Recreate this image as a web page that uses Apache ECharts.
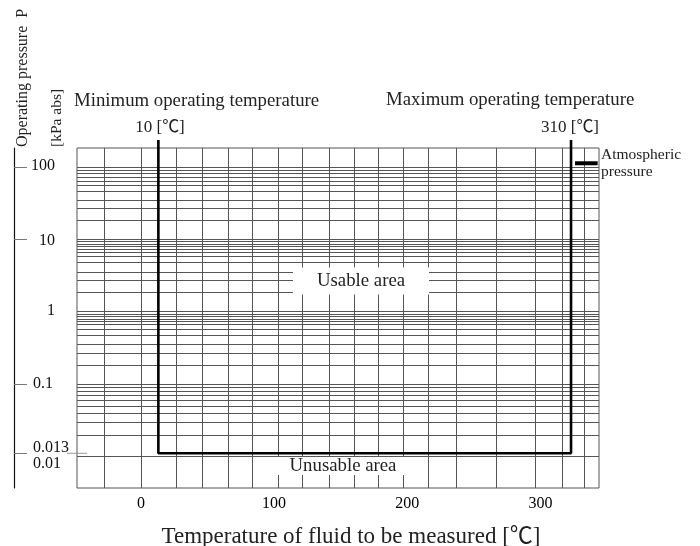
<!DOCTYPE html>
<html>
<head>
<meta charset="utf-8">
<script src="https://cdn.jsdelivr.net/npm/echarts@6/dist/echarts.min.js"></script>
<style>
html,body{margin:0;padding:0;background:#fff;}
#chart{width:700px;height:546px;}
</style>
</head>
<body>
<div id="chart"></div>
<script>
// ---- data ----
const xTickLabels = [0, 100, 200, 300];                 // °C
const yTickLabels = [100, 10, 1, 0.1, 0.013, 0.01];     // kPa abs
const yTickMarks = [100, 10, 0.1, 0.0111];
const verticalGridTemps = [-27.7, 0, 26.4, 45.9, 65.4, 83.4, 103, 121, 141.3, 160.1, 178.1,
  196.8, 215.6, 236.6, 266.7, 295.9, 316.2, 332.7];
const horizontalGridPressures = [
  100, 89.6, 80.4, 70.8, 63.7, 56.1, 45.4, 34.8, 26.8, 18.5,
  10, 9.26, 8.61, 7.90, 7.27, 6.67, 5.74, 4.75, 3.50, 2.68, 1.85,
  1, 0.926, 0.861, 0.790, 0.727, 0.667, 0.574, 0.475, 0.350, 0.268, 0.185,
  0.1, 0.0951, 0.0876, 0.0812, 0.0747, 0.0686, 0.0617, 0.0544, 0.0464, 0.0355, 0.0273, 0.0182,
  0.01018, 0.00946, 0.00877, 0.00807, 0.00741, 0.00667, 0.00574, 0.00475];
const limitTemps = [13.1, 323];          // min / max operating temperature lines
const limitTopPressure = 235;            // top end of the limit lines
const limitLowPressure = 0.0111;         // lower boundary line
const atmTemps = [326, 343];
const atmPressure = 112;
const leaderTemps = [-55.6, -40.5];
// -------------------------------------

const SERIF = "'Liberation Serif', 'Noto Sans CJK JP', serif";
const chart = echarts.init(document.getElementById('chart'), null, {renderer: 'canvas'});

const boundary = [
  [limitTemps[0], limitTopPressure],
  [limitTemps[0], limitLowPressure],
  [limitTemps[1], limitLowPressure],
  [limitTemps[1], limitTopPressure]
];

function yLabelFmt(v) {
  const s = String(+v.toPrecision(3));
  const near = (a) => Math.abs(v - a) < a * 1e-6;
  if (near(0.01)) return '{d|' + s + '}';
  if (near(0.013)) return '{s|' + s + '}';
  if (near(0.1)) return '{p|' + s + '}';
  if (near(100)) return '{h|' + s + '}';
  if (near(10)) return '{k|' + s + '}';
  return '{b|' + s + '}';
}

function txt(id, x, y, text, font, align, vAlign, extra) {
  return {
    type: 'text', id: id, z: 100, x: x, y: y, silent: true,
    style: Object.assign({text: text, font: font + ' ' + SERIF, fill: '#222',
      textAlign: align, textVerticalAlign: vAlign}, extra || {})
  };
}

const lab = {fontFamily: SERIF, fontSize: 16, color: '#111'};
const option = {
  animation: false,
  backgroundColor: '#fff',
  grid: {
    left: 77, right: 101, top: 148, bottom: 58,
    outerBoundsMode: 'none', containLabel: false,
    show: true, borderColor: '#555', borderWidth: 1
  },
  xAxis: {
    type: 'value', min: -48, max: 344,
    axisLine: {show: false}, axisTick: {show: false}, splitLine: {show: false},
    axisLabel: {
      customValues: xTickLabels, margin: 8,
      fontFamily: SERIF, fontSize: 16, color: '#000'
    },
    name: 'Temperature of fluid to be measured [℃]',
    nameLocation: 'middle', nameGap: 37,
    nameTextStyle: {fontFamily: SERIF, fontSize: 23, color: '#222', padding: [0, 0, 0, 26]}
  },
  yAxis: {
    type: 'log', logBase: 10, min: 0.003680, max: 182.0,
    position: 'left', offset: 63,
    axisLine: {show: true, onZero: false, lineStyle: {color: '#111', width: 1.2}},
    axisTick: {show: true, inside: true, length: 13, customValues: yTickMarks,
      lineStyle: {color: '#777', width: 1}},
    splitLine: {show: false},
    axisLabel: {
      customValues: yTickLabels, inside: true, margin: 19, align: 'left',
      formatter: yLabelFmt,
      rich: {
        b: Object.assign({}, lab, {width: 22, align: 'right', padding: [0, 0, 1, 0]}),
        h: Object.assign({}, lab, {width: 22, align: 'right', padding: [0, 0, 3, 0]}),
        k: Object.assign({}, lab, {width: 22, align: 'right', padding: [3, 0, 0, 0]}),
        p: Object.assign({}, lab, {padding: [0, 0, 0, 0]}),
        s: Object.assign({}, lab, {padding: [0, 0, 2, 0]}),
        d: Object.assign({}, lab, {padding: [15, 0, 0, 0]})
      }
    }
  },
  series: [
    {
      type: 'line', name: 'grid', data: [], silent: true, z: 1,
      markLine: {
        silent: true, symbol: ['none', 'none'], label: {show: false},
        lineStyle: {type: 'solid', color: '#555', width: 1},
        emphasis: {disabled: true},
        data: horizontalGridPressures.map(p => ({yAxis: p}))
          .concat(verticalGridTemps.map(t => ({xAxis: t})))
      }
    },
    {
      type: 'line', name: 'limits', data: boundary, clip: false, z: 5,
      symbol: 'none', silent: true,
      lineStyle: {color: '#000', width: 2.6}
    },
    {
      type: 'line', name: 'atmospheric', clip: false, z: 5,
      data: atmTemps.map(t => [t, atmPressure]),
      symbol: 'none', silent: true,
      lineStyle: {color: '#000', width: 4}
    }
  ],
  graphic: {
    elements: [
      txt('tmin', 74, 101, 'Minimum operating temperature', '18.8px', 'left', 'middle'),
      txt('tmax', 386, 100, 'Maximum operating temperature', '18.8px', 'left', 'middle'),
      txt('l10', 160, 128, '10 [℃]', '17px', 'center', 'middle'),
      txt('l310', 570, 128, '310 [℃]', '17px', 'center', 'middle'),
      txt('atm', 601, 146, 'Atmospheric\npressure', '15.5px', 'left', 'top', {lineHeight: 17}),
      txt('usable', 361, 281, 'Usable area', '18.8px', 'center', 'middle',
        {backgroundColor: '#fff', padding: [4, 24, 4, 24]}),
      txt('unusable', 343, 466, 'Unusable area', '18.8px', 'center', 'middle',
        {backgroundColor: '#fff', padding: [0, 22, 0, 22], lineHeight: 18}),
      Object.assign(txt('yname1', 23, 147, 'Operating pressure  P', '16px', 'left', 'middle'),
        {rotation: Math.PI / 2}),
      Object.assign(txt('yname2', 57, 147, '[kPa abs]', '15.5px', 'left', 'middle'),
        {rotation: Math.PI / 2})
    ]
  }
};
chart.setOption(option);

// leader line for the 0.013 tick, placed through the chart's own scales
const p0 = chart.convertToPixel({gridIndex: 0}, [leaderTemps[0], limitLowPressure]);
const p1 = chart.convertToPixel({gridIndex: 0}, [leaderTemps[1], limitLowPressure]);
chart.setOption({
  graphic: {
    elements: [{
      type: 'line', id: 'leader', z: 50, silent: true,
      shape: {x1: p0[0], y1: p0[1], x2: p1[0], y2: p1[1]},
      style: {stroke: '#999', lineWidth: 1}
    }]
  }
});
</script>
</body>
</html>
